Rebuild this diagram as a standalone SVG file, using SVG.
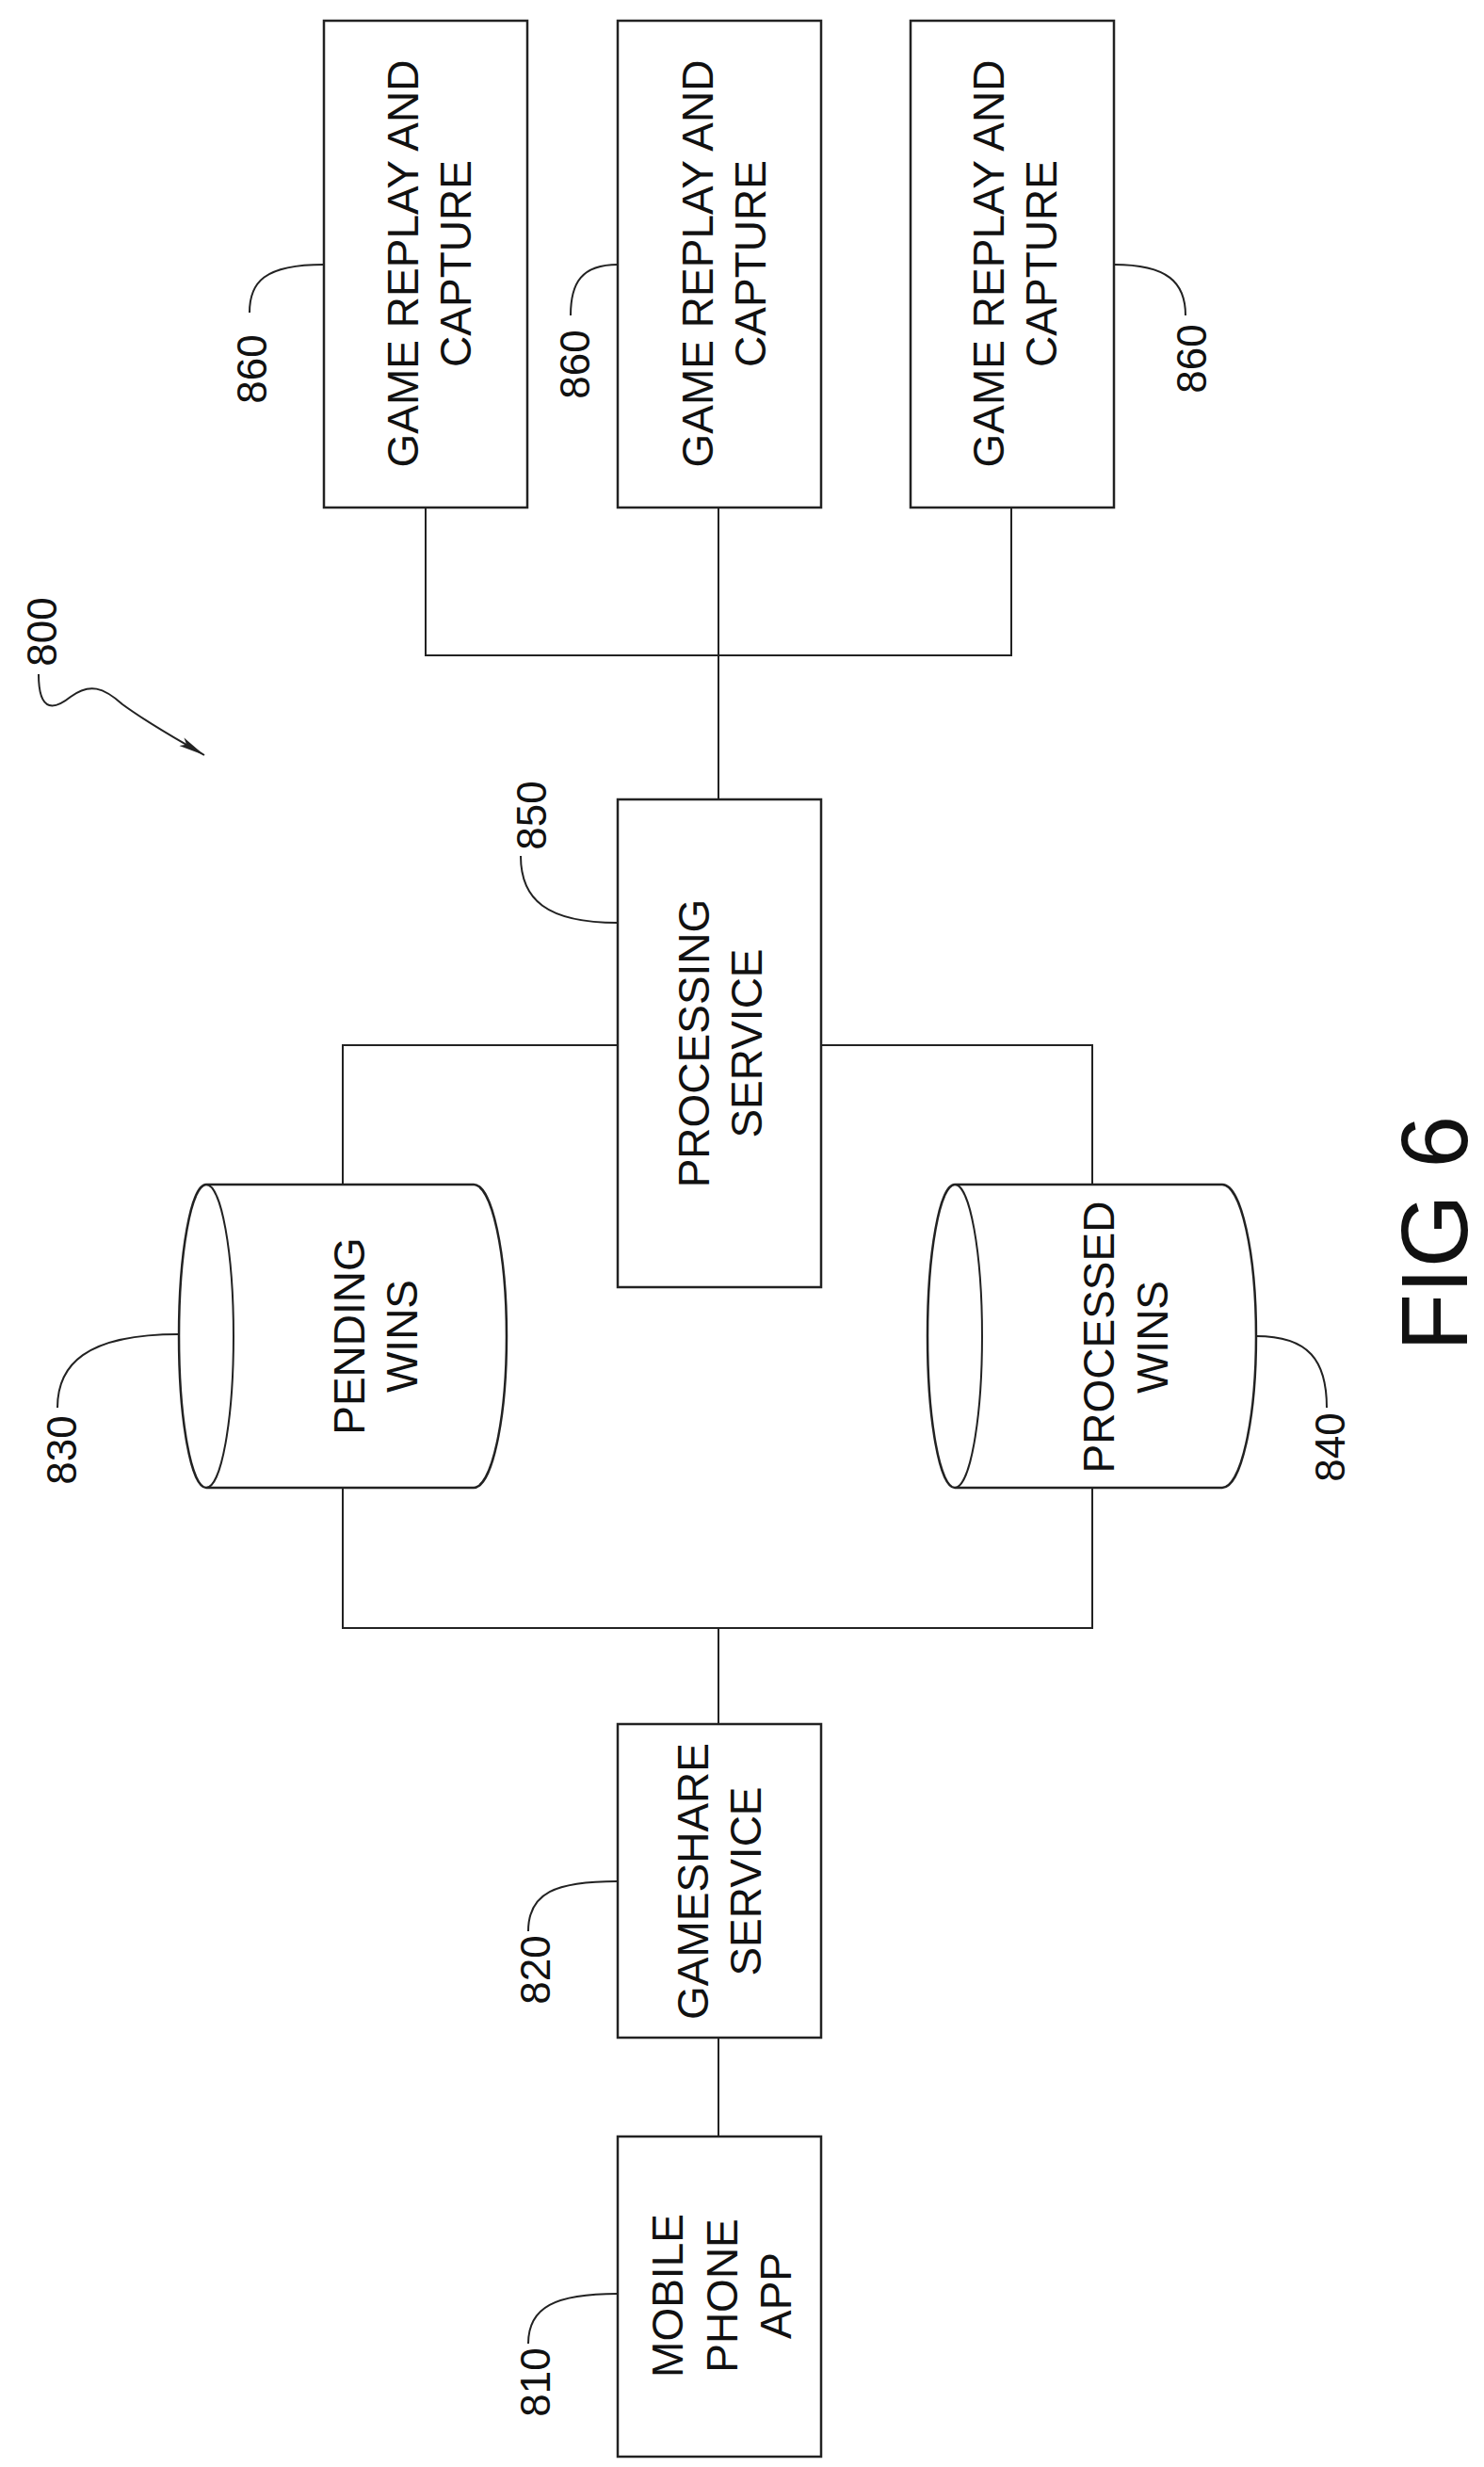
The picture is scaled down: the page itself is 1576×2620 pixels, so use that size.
<svg xmlns="http://www.w3.org/2000/svg" width="1576" height="2620" viewBox="0 0 1576 2620">
<style>
.b{fill:#fff;stroke:#222;stroke-width:2.5}
.l{fill:none;stroke:#222;stroke-width:2}
.t{font-family:"Liberation Sans",Arial,sans-serif;font-size:46px;fill:#111;text-anchor:middle}
.n{font-family:"Liberation Sans",Arial,sans-serif;font-size:44px;fill:#111;text-anchor:middle}
</style>
<defs>
<marker id="ah" markerWidth="30" markerHeight="14" refX="28" refY="7" orient="auto" markerUnits="userSpaceOnUse">
<path d="M0,2 L28,7 L0,12 L6,7 Z" fill="#222"/>
</marker>
</defs>
<rect width="1576" height="2620" fill="#fff"/>
<g id="connectors">
<path class="l" d="M452,539 V696 H1074 V539 M763,539 V854"/>
<path class="l" d="M656,1110 H364 V1258 M872,1110 H1160 V1258"/>
<path class="l" d="M364,1580 V1729 H1160 V1580 M763,1729 V1831"/>
<path class="l" d="M763,2164 V2269"/>
</g>
<g id="n860a">
<rect class="b" x="344" y="22" width="216" height="517"/>
<text class="t" transform="translate(444,280) rotate(-90)">GAME REPLAY AND</text>
<text class="t" transform="translate(500,280) rotate(-90)">CAPTURE</text>
<path class="l" d="M265,332 C265,300 280,281 344,281"/>
<text class="n" transform="translate(283,392) rotate(-90)">860</text>
</g>
<g id="n860b">
<rect class="b" x="656" y="22" width="216" height="517"/>
<text class="t" transform="translate(757,280) rotate(-90)">GAME REPLAY AND</text>
<text class="t" transform="translate(813,280) rotate(-90)">CAPTURE</text>
<path class="l" d="M606,335 C606,300 618,281 656,281"/>
<text class="n" transform="translate(626,387) rotate(-90)">860</text>
</g>
<g id="n860c">
<rect class="b" x="967" y="22" width="216" height="517"/>
<text class="t" transform="translate(1066,280) rotate(-90)">GAME REPLAY AND</text>
<text class="t" transform="translate(1122,280) rotate(-90)">CAPTURE</text>
<path class="l" d="M1183,281 C1240,281 1259,300 1259,335"/>
<text class="n" transform="translate(1281,381) rotate(-90)">860</text>
</g>
<g id="n800">
<text class="n" transform="translate(60,671) rotate(-90)">800</text>
<path class="l" d="M41,716 C41,760 60,752 75,740 C95,725 110,730 130,748 C160,770 190,786 217,802" marker-end="url(#ah)"/>
</g>
<g id="n850">
<rect class="b" x="656" y="849" width="216" height="518"/>
<text class="t" transform="translate(753,1108) rotate(-90)">PROCESSING</text>
<text class="t" transform="translate(809,1108) rotate(-90)">SERVICE</text>
<path class="l" d="M553,909 C553,955 580,980 656,980"/>
<text class="n" transform="translate(580,866) rotate(-90)">850</text>
</g>
<g id="n830">
<path class="b" d="M219,1258 H503 A35,161 0 0 1 503,1580 H219 A29,161 0 0 1 219,1258 Z"/>
<path class="l" d="M219,1258 A29,161 0 0 1 219,1580"/>
<text class="t" transform="translate(387,1419) rotate(-90)">PENDING</text>
<text class="t" transform="translate(443,1419) rotate(-90)">WINS</text>
<path class="l" d="M61,1495 C61,1450 90,1417 190,1417"/>
<text class="n" transform="translate(81,1540) rotate(-90)">830</text>
</g>
<g id="n840">
<path class="b" d="M1014,1258 H1298 A36,161 0 0 1 1298,1580 H1014 A29,161 0 0 1 1014,1258 Z"/>
<path class="l" d="M1014,1258 A29,161 0 0 1 1014,1580"/>
<text class="t" transform="translate(1183,1420) rotate(-90)">PROCESSED</text>
<text class="t" transform="translate(1240,1420) rotate(-90)">WINS</text>
<path class="l" d="M1334,1419 C1390,1419 1409,1445 1409,1495"/>
<text class="n" transform="translate(1428,1537) rotate(-90)">840</text>
</g>
<g id="n820">
<rect class="b" x="656" y="1831" width="216" height="333"/>
<text class="t" transform="translate(752,1998) rotate(-90)">GAMESHARE</text>
<text class="t" transform="translate(808,1998) rotate(-90)">SERVICE</text>
<path class="l" d="M561,2051 C561,2010 590,1998 656,1998"/>
<text class="n" transform="translate(584,2092) rotate(-90)">820</text>
</g>
<g id="n810">
<rect class="b" x="656" y="2269" width="216" height="340"/>
<text class="t" transform="translate(725,2438) rotate(-90)">MOBILE</text>
<text class="t" transform="translate(783,2438) rotate(-90)">PHONE</text>
<text class="t" transform="translate(840,2438) rotate(-90)">APP</text>
<path class="l" d="M561,2489 C561,2450 590,2436 656,2436"/>
<text class="n" transform="translate(584,2530) rotate(-90)">810</text>
</g>
<text font-family="Liberation Sans,Arial,sans-serif" font-size="100" fill="#111" text-anchor="middle" transform="translate(1558,1310) rotate(-90)">FIG 6</text>
</svg>
